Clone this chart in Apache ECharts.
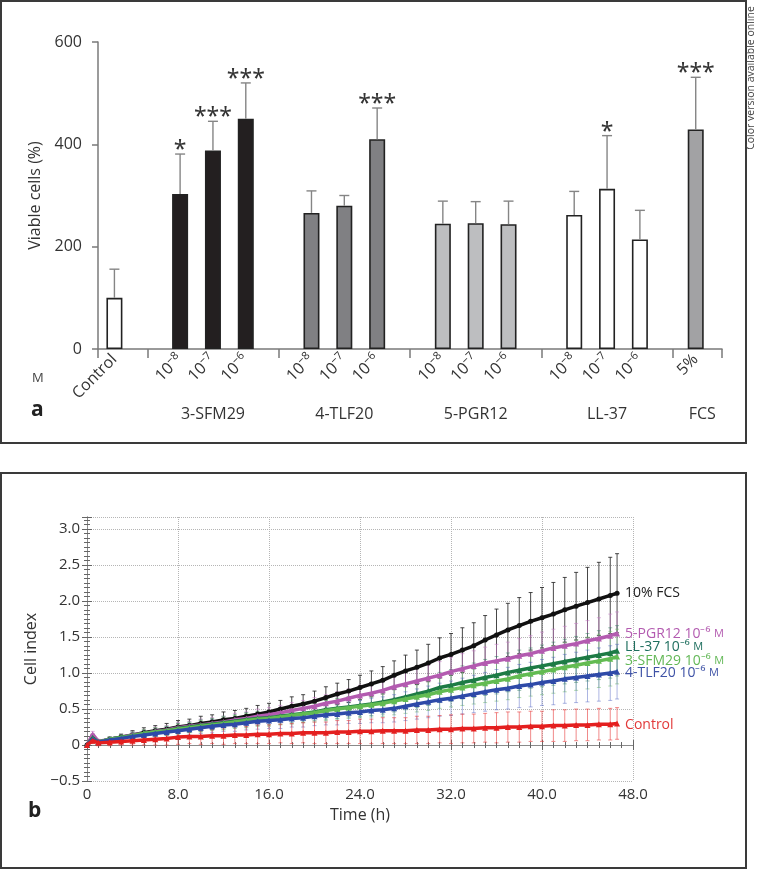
<!DOCTYPE html>
<html><head><meta charset="utf-8">
<script src="https://cdn.jsdelivr.net/npm/echarts@6/dist/echarts.min.js"></script>
<style>html,body{margin:0;padding:0;background:#fff}#c{width:760px;height:869px}</style>
</head><body><div id="c"></div>
<script>
// ---------- Panel a data ----------
const groupNames = ['Control', '3-SFM29', '4-TLF20', '5-PGR12', 'LL-37', 'FCS'];
const doseLabels = [['Control'], ['10^−8', '10^−7', '10^−6'], ['10^−8', '10^−7', '10^−6'], ['10^−8', '10^−7', '10^−6'], ['10^−8', '10^−7', '10^−6'], ['5%']];
const viable = [[100], [303, 388, 450], [266, 280, 410], [245, 246, 244], [262, 313, 214], [429]];
const viableErr = [[56], [78, 57, 70], [43, 20, 61], [44, 42, 45], [46, 104, 57], [102]];
const stars = [[''], ['*', '***', '***'], ['', '', '***'], ['', '', ''], ['', '*', ''], ['***']];
const viableTicks = [0, 200, 400, 600];

// ---------- Panel b data ----------
const times = [0, 0.5, 1, 2, 3, 4, 5, 6, 7, 8,
  9, 10, 11, 12, 13, 14, 15, 16, 17, 18,
  19, 20, 21, 22, 23, 24, 25, 26, 27, 28,
  29, 30, 31, 32, 33, 34, 35, 36, 37, 38,
  39, 40, 41, 42, 43, 44, 45, 46, 46.6];
const cellFCS = [0.00, 0.12, 0.04, 0.08, 0.11, 0.14, 0.17, 0.20, 0.22, 0.25,
  0.27, 0.30, 0.32, 0.35, 0.37, 0.40, 0.43, 0.46, 0.50, 0.54,
  0.57, 0.61, 0.66, 0.71, 0.75, 0.80, 0.85, 0.90, 0.97, 1.03,
  1.08, 1.14, 1.21, 1.26, 1.32, 1.38, 1.46, 1.53, 1.60, 1.66,
  1.72, 1.77, 1.82, 1.88, 1.93, 1.98, 2.03, 2.08, 2.11];
const cellPGR12 = [0.00, 0.15, 0.05, 0.08, 0.11, 0.14, 0.16, 0.19, 0.21, 0.24,
  0.26, 0.28, 0.30, 0.32, 0.35, 0.37, 0.40, 0.42, 0.45, 0.48,
  0.51, 0.54, 0.58, 0.61, 0.65, 0.69, 0.72, 0.76, 0.81, 0.85,
  0.89, 0.93, 0.97, 1.02, 1.06, 1.10, 1.14, 1.17, 1.20, 1.24,
  1.27, 1.31, 1.35, 1.38, 1.41, 1.45, 1.48, 1.52, 1.55];
const cellLL37 = [0.00, 0.10, 0.04, 0.08, 0.11, 0.13, 0.16, 0.18, 0.20, 0.23,
  0.25, 0.27, 0.29, 0.31, 0.33, 0.35, 0.37, 0.38, 0.40, 0.42,
  0.44, 0.46, 0.49, 0.51, 0.53, 0.55, 0.57, 0.60, 0.63, 0.67,
  0.71, 0.75, 0.80, 0.83, 0.87, 0.90, 0.94, 0.97, 1.01, 1.04,
  1.07, 1.10, 1.13, 1.16, 1.19, 1.22, 1.25, 1.28, 1.31];
const cellSFM29 = [0.00, 0.08, 0.04, 0.08, 0.10, 0.13, 0.16, 0.18, 0.20, 0.22,
  0.24, 0.26, 0.28, 0.30, 0.32, 0.34, 0.36, 0.37, 0.39, 0.41,
  0.43, 0.45, 0.48, 0.50, 0.52, 0.54, 0.56, 0.58, 0.61, 0.64,
  0.67, 0.70, 0.74, 0.77, 0.80, 0.83, 0.86, 0.89, 0.92, 0.96,
  0.99, 1.02, 1.05, 1.08, 1.11, 1.14, 1.17, 1.20, 1.23];
const cellTLF20 = [0.00, 0.08, 0.04, 0.07, 0.09, 0.12, 0.14, 0.16, 0.18, 0.20,
  0.22, 0.24, 0.26, 0.28, 0.29, 0.31, 0.33, 0.34, 0.35, 0.37,
  0.38, 0.40, 0.42, 0.43, 0.45, 0.46, 0.48, 0.49, 0.51, 0.54,
  0.57, 0.60, 0.63, 0.65, 0.68, 0.71, 0.74, 0.77, 0.79, 0.82,
  0.84, 0.87, 0.89, 0.92, 0.94, 0.96, 0.98, 1.00, 1.02];
const cellControl = [0.00, 0.06, 0.03, 0.04, 0.05, 0.06, 0.07, 0.08, 0.09, 0.11,
  0.12, 0.12, 0.13, 0.13, 0.14, 0.14, 0.15, 0.15, 0.16, 0.16,
  0.17, 0.17, 0.17, 0.18, 0.18, 0.19, 0.19, 0.20, 0.20, 0.20,
  0.21, 0.21, 0.22, 0.22, 0.23, 0.23, 0.24, 0.24, 0.25, 0.25,
  0.26, 0.26, 0.27, 0.27, 0.28, 0.28, 0.29, 0.29, 0.30];
const errFCS = [0.02, 0.03, 0.03, 0.03, 0.04, 0.06, 0.07, 0.07, 0.08, 0.09,
  0.09, 0.10, 0.10, 0.11, 0.11, 0.11, 0.12, 0.12, 0.12, 0.13,
  0.13, 0.14, 0.15, 0.15, 0.16, 0.17, 0.18, 0.19, 0.20, 0.22,
  0.24, 0.26, 0.28, 0.29, 0.31, 0.32, 0.34, 0.36, 0.37, 0.39,
  0.40, 0.42, 0.44, 0.45, 0.47, 0.49, 0.51, 0.53, 0.55];
const errPGR12 = [0.02, 0.04, 0.03, 0.03, 0.04, 0.05, 0.05, 0.06, 0.06, 0.07,
  0.07, 0.08, 0.08, 0.08, 0.09, 0.09, 0.10, 0.10, 0.10, 0.11,
  0.11, 0.12, 0.12, 0.13, 0.13, 0.14, 0.15, 0.15, 0.16, 0.17,
  0.18, 0.18, 0.19, 0.20, 0.21, 0.21, 0.22, 0.23, 0.23, 0.24,
  0.25, 0.26, 0.26, 0.27, 0.28, 0.28, 0.29, 0.30, 0.30];
const errLL37 = [0.02, 0.03, 0.03, 0.03, 0.04, 0.05, 0.05, 0.06, 0.06, 0.07,
  0.07, 0.08, 0.08, 0.09, 0.09, 0.10, 0.10, 0.10, 0.11, 0.11,
  0.12, 0.12, 0.13, 0.14, 0.14, 0.15, 0.16, 0.17, 0.17, 0.18,
  0.19, 0.20, 0.21, 0.22, 0.23, 0.24, 0.25, 0.26, 0.27, 0.28,
  0.28, 0.29, 0.30, 0.31, 0.32, 0.33, 0.34, 0.35, 0.35];
const errSFM29 = [0.02, 0.03, 0.03, 0.03, 0.04, 0.05, 0.05, 0.06, 0.06, 0.07,
  0.07, 0.08, 0.08, 0.09, 0.09, 0.10, 0.10, 0.11, 0.11, 0.12,
  0.12, 0.13, 0.14, 0.14, 0.15, 0.16, 0.17, 0.18, 0.19, 0.20,
  0.21, 0.22, 0.23, 0.24, 0.25, 0.26, 0.27, 0.28, 0.29, 0.30,
  0.31, 0.32, 0.33, 0.34, 0.35, 0.36, 0.37, 0.38, 0.38];
const errTLF20 = [0.02, 0.03, 0.03, 0.03, 0.04, 0.05, 0.06, 0.06, 0.07, 0.07,
  0.08, 0.08, 0.09, 0.09, 0.10, 0.10, 0.11, 0.11, 0.12, 0.12,
  0.13, 0.13, 0.14, 0.15, 0.15, 0.16, 0.17, 0.18, 0.19, 0.20,
  0.21, 0.22, 0.23, 0.24, 0.25, 0.26, 0.27, 0.28, 0.29, 0.30,
  0.31, 0.32, 0.33, 0.34, 0.35, 0.36, 0.37, 0.38, 0.38];
const errControl = [0.02, 0.04, 0.04, 0.05, 0.05, 0.06, 0.07, 0.08, 0.09, 0.10,
  0.10, 0.11, 0.11, 0.12, 0.12, 0.12, 0.13, 0.13, 0.13, 0.14,
  0.14, 0.15, 0.15, 0.16, 0.16, 0.17, 0.17, 0.18, 0.18, 0.18,
  0.19, 0.19, 0.19, 0.20, 0.20, 0.20, 0.20, 0.21, 0.21, 0.21,
  0.21, 0.21, 0.22, 0.22, 0.22, 0.22, 0.22, 0.22, 0.22];
const curveNames = ['10% FCS', '5-PGR12', 'LL-37', '3-SFM29', '4-TLF20', 'Control'];
const curveDose = ['', '10⁻⁶', '10⁻⁶', '10⁻⁶', '10⁻⁶', ''];
const curveValues = [cellFCS, cellPGR12, cellLL37, cellSFM29, cellTLF20, cellControl];
const curveErrors = [errFCS, errPGR12, errLL37, errSFM29, errTLF20, errControl];

// ---------- styles ----------
const FONT = 'Open Sans';
const TXT = '#333';
const barFills = ['#ffffff', '#231f20', '#808083', '#bdbec0', '#ffffff', '#a2a2a4'];
const curveColors = ['#111111', '#b35bb0', '#1d7b45', '#62bb52', '#2e4aa8', '#e41f1f'];
const curveLabelColors = ['#222222', '#b35bb0', '#1f6f5f', '#63b857', '#3e52a6', '#e23a3a'];
const curveErrColors = ['rgba(40,40,40,0.85)', 'rgba(200,120,200,0.55)', 'rgba(30,120,80,0.45)',
  'rgba(110,190,100,0.5)', 'rgba(70,90,190,0.45)', 'rgba(230,60,60,0.6)'];
const curveSymbols = ['circle', 'triangle', 'triangle', 'triangle', 'triangle', 'triangle'];
const curveLabelOffsets = [0, 0, -4, 4, 1, 2];

// ---------- panel a layout (slot positions on the x value axis) ----------
const barItems = [];
const labelMap = {};
const groupCenters = [];
const dividers = [0];
let slot = 0;
groupNames.forEach((g, gi) => {
  if (gi > 0) { dividers.push(slot + 0.5); slot += 1; }
  const isLastSingle = gi === groupNames.length - 1;
  const shift = isLastSingle ? -0.3 : 0;
  const ps = [];
  viable[gi].forEach((v, k) => {
    const pos = slot + 0.5 + shift;
    ps.push(pos);
    barItems.push({ pos, v, e: viableErr[gi][k], star: stars[gi][k], color: barFills[gi] });
    labelMap[pos.toFixed(2)] = doseLabels[gi][k];
    slot += 1;
  });
  if (gi > 0) {
    const c = ps.reduce((a, b) => a + b, 0) / ps.length + (isLastSingle ? 0.2 : 0);
    groupCenters.push(c);
    labelMap['g' + c.toFixed(2)] = g;
  }
});
const slotMax = slot;
dividers.push(slotMax);
const barPositions = barItems.map(b => b.pos);

// rich-text formatting of "10^−8" style labels (superscript exponent)
function richDose(txt) {
  if (!txt) return '';
  const i = txt.indexOf('^');
  if (i < 0) return '{b|' + txt + '}';
  return '{b|' + txt.slice(0, i) + '}{s|' + txt.slice(i + 1) + '}';
}

const chart = echarts.init(document.getElementById('c'), null, { renderer: 'canvas' });

const series = [];
series.push({
  type: 'bar', xAxisIndex: 0, yAxisIndex: 0, barWidth: 16, z: 2,
  data: barItems.map(b => ({ value: [b.pos, b.v], itemStyle: { color: b.color, borderColor: '#222', borderWidth: 1.6 } })),
  silent: true
});
series.push({
  type: 'custom', xAxisIndex: 0, yAxisIndex: 0, z: 3, silent: true,
  data: barItems.map((b, i) => [b.pos, b.v, b.e, i]),
  renderItem: (params, api) => {
    const x = api.value(0), v = api.value(1), e = api.value(2), idx = api.value(3);
    const p0 = api.coord([x, v]);
    const p1 = api.coord([x, v + e]);
    const children = [
      { type: 'line', shape: { x1: p0[0], y1: p0[1], x2: p1[0], y2: p1[1] }, style: { stroke: '#858585', lineWidth: 1.4 } },
      { type: 'line', shape: { x1: p1[0] - 5, y1: p1[1], x2: p1[0] + 5, y2: p1[1] }, style: { stroke: '#858585', lineWidth: 1.4 } }
    ];
    const s = barItems[idx].star;
    if (s) {
      children.push({ type: 'text', style: { text: s, x: p1[0], y: p1[1] + 8, align: 'center', verticalAlign: 'bottom', fill: '#333', font: '23px "Noto Sans"' } });
    }
    return { type: 'group', children };
  }
});
curveNames.forEach((n, ci) => {
  series.push({
    type: 'custom', xAxisIndex: 2, yAxisIndex: 2, z: 2, silent: true,
    data: times.map((t, i) => [t, curveValues[ci][i], curveErrors[ci][i]]),
    renderItem: (params, api) => {
      const x = api.value(0), v = api.value(1), e = api.value(2);
      const lo = api.coord([x, v - e]), hi = api.coord([x, v + e]);
      const st = { stroke: curveErrColors[ci], lineWidth: 1 };
      return {
        type: 'group', children: [
          { type: 'line', shape: { x1: lo[0], y1: lo[1], x2: hi[0], y2: hi[1] }, style: st },
          { type: 'line', shape: { x1: hi[0] - 2, y1: hi[1], x2: hi[0] + 2, y2: hi[1] }, style: st },
          { type: 'line', shape: { x1: lo[0] - 2, y1: lo[1], x2: lo[0] + 2, y2: lo[1] }, style: st }
        ]
      };
    }
  });
});
curveNames.forEach((n, ci) => {
  const dose = curveDose[ci];
  const lc = curveLabelColors[ci];
  series.push({
    type: 'line', name: n, xAxisIndex: 2, yAxisIndex: 2, z: 5 + ci, silent: true,
    data: times.map((t, i) => [t, curveValues[ci][i]]),
    symbol: curveSymbols[ci], symbolSize: ci === 0 ? 5 : 6, showSymbol: true,
    lineStyle: { color: curveColors[ci], width: 3.5 },
    itemStyle: { color: curveColors[ci] },
    endLabel: {
      show: true, distance: 8, offset: [0, curveLabelOffsets[ci]],
      formatter: dose ? ('{t|' + n + ' ' + dose + ' }{m|M}') : ('{t|' + n + '}'),
      rich: {
        t: { fontFamily: FONT, fontSize: 14, color: lc },
        m: { fontFamily: FONT, fontSize: 11, color: lc }
      }
    }
  });
});

const axisGray = '#7a7a7a';
const option = {
  animation: false,
  backgroundColor: '#fff',
  textStyle: { fontFamily: FONT },
  grid: [
    { left: 98, right: 38, top: 42, bottom: 520 },
    { left: 87, right: 127, top: 517, bottom: 88 }
  ],
  xAxis: [
    {
      gridIndex: 0, type: 'value', min: 0, max: slotMax,
      axisLine: { show: true, lineStyle: { color: axisGray, width: 1.5 } },
      axisTick: { show: true, customValues: dividers, length: 9, lineStyle: { color: axisGray, width: 1.5 } },
      axisLabel: {
        customValues: barPositions, rotate: 45, margin: 8,
        fontFamily: FONT, fontSize: 16, color: TXT,
        formatter: v => richDose(labelMap[Number(v).toFixed(2)]),
        rich: {
          b: { fontFamily: FONT, fontSize: 16, color: TXT, lineHeight: 20 },
          s: { fontFamily: FONT, fontSize: 11, color: TXT, lineHeight: 12, verticalAlign: 'top' }
        }
      },
      splitLine: { show: false }
    },
    {
      gridIndex: 0, type: 'value', min: 0, max: slotMax, position: 'bottom', offset: 49,
      axisLine: { show: false }, axisTick: { show: false }, splitLine: { show: false },
      axisLabel: {
        customValues: groupCenters, margin: 8, fontFamily: FONT, fontSize: 16, color: TXT,
        formatter: v => labelMap['g' + Number(v).toFixed(2)] || ''
      }
    },
    {
      gridIndex: 1, type: 'value', min: 0, max: 48, interval: 8,
      axisLine: { show: true, lineStyle: { color: '#8a8a8a', width: 1 } },
      axisTick: { show: true, inside: true, length: 5, lineStyle: { color: '#666' } },
      minorTick: { show: true, splitNumber: 8, length: 3, lineStyle: { color: '#666' } },
      axisLabel: { fontFamily: FONT, fontSize: 15, color: TXT, margin: 6, formatter: v => v === 0 ? '0' : v.toFixed(1) },
      splitLine: { show: true, lineStyle: { color: '#b5b5b5', type: 'dotted', width: 1 } },
      name: 'Time (h)', nameLocation: 'middle', nameGap: 26,
      nameTextStyle: { fontFamily: FONT, fontSize: 16, color: TXT }
    },
    {
      gridIndex: 1, type: 'value', min: 0, max: 48, interval: 8, position: 'top',
      axisLine: { show: true, lineStyle: { color: '#8a8a8a', width: 1 } },
      axisTick: { show: true, inside: true, length: 5, lineStyle: { color: '#666' } },
      minorTick: { show: true, splitNumber: 8, length: 3, lineStyle: { color: '#666' } },
      axisLabel: { show: false }, splitLine: { show: false }
    }
  ],
  yAxis: [
    {
      gridIndex: 0, type: 'value', min: viableTicks[0], max: viableTicks[viableTicks.length - 1], interval: viableTicks[1] - viableTicks[0],
      axisLine: { show: true, lineStyle: { color: axisGray, width: 1.5 } },
      axisTick: { show: true, length: 6, lineStyle: { color: axisGray, width: 1.5 } },
      axisLabel: { fontFamily: FONT, fontSize: 16, color: TXT, margin: 16 },
      splitLine: { show: false },
      name: 'Viable cells (%)', nameLocation: 'middle', nameGap: 40,
      nameTextStyle: { fontFamily: FONT, fontSize: 16, color: TXT }
    },
    { gridIndex: 0, type: 'value', show: false, min: 0, max: 600 },
    {
      gridIndex: 1, type: 'value', min: -0.5, max: 3.17, interval: 0.5,
      axisLine: { show: true, lineStyle: { color: '#8a8a8a', width: 1 } },
      axisTick: { show: true, inside: true, length: 5, lineStyle: { color: '#666' } },
      minorTick: { show: true, splitNumber: 8, length: 3, lineStyle: { color: '#666' } },
      axisLabel: {
        fontFamily: FONT, fontSize: 15, color: TXT, margin: 7, showMaxLabel: false,
        formatter: v => v === 0 ? '0' : (v < 0 ? '\u2212' + Math.abs(v).toFixed(1) : v.toFixed(1))
      },
      splitLine: { show: true, lineStyle: { color: '#b5b5b5', type: 'dotted', width: 1 } },
      name: 'Cell index', nameLocation: 'middle', nameGap: 37,
      nameTextStyle: { fontFamily: FONT, fontSize: 16, color: TXT }
    },
    {
      gridIndex: 1, type: 'value', min: -0.5, max: 3.17, interval: 0.5, position: 'right',
      axisLine: { show: true, lineStyle: { color: '#8a8a8a', width: 1 } },
      axisTick: { show: true, inside: true, length: 5, lineStyle: { color: '#666' } },
      minorTick: { show: true, splitNumber: 8, length: 3, lineStyle: { color: '#666' } },
      axisLabel: { show: false }, splitLine: { show: false }
    }
  ],
  graphic: [
    { type: 'rect', shape: { x: 1, y: 1, width: 745, height: 442 }, style: { fill: 'none', stroke: '#3a3a3a', lineWidth: 2 }, silent: true },
    { type: 'rect', shape: { x: 1, y: 473, width: 745, height: 395 }, style: { fill: 'none', stroke: '#3a3a3a', lineWidth: 2 }, silent: true },
    { type: 'text', left: 31, top: 400, style: { text: 'a', font: 'bold 21px "Open Sans"', fill: '#222' } },
    { type: 'text', left: 32, top: 372, style: { text: 'M', font: '13px "Open Sans"', fill: '#444' } },
    { type: 'text', left: 28, top: 801, style: { text: 'b', font: 'bold 21px "Open Sans"', fill: '#222' } },
    { type: 'text', x: 751, y: 78, rotation: Math.PI / 2, style: { text: 'Color version available online', font: '10.5px "Open Sans"', fill: '#444', align: 'center', verticalAlign: 'middle' } }
  ],
  series
};
chart.setOption(option);
</script>
</body></html>
